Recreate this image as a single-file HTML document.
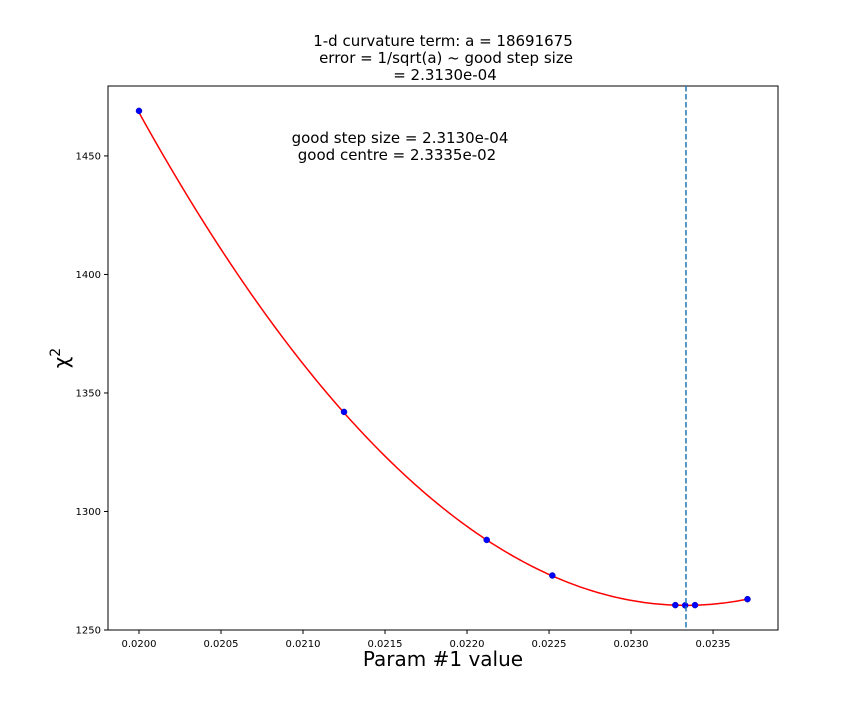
<!DOCTYPE html>
<html><head><meta charset="utf-8"><style>
body{margin:0;background:#fff;}
svg text{font-family:"DejaVu Sans","Liberation Sans",sans-serif;}
</style></head><body>
<svg id="chart" width="864" height="720" xmlns="http://www.w3.org/2000/svg">
<text x="443" y="46" font-size="15" text-anchor="middle">1-d curvature term: a = 18691675</text>
<text x="446" y="63" font-size="15" text-anchor="middle">error = 1/sqrt(a) ~ good step size</text>
<text x="445" y="80" font-size="15" text-anchor="middle">= 2.3130e-04</text>
<text x="400" y="143" font-size="15" text-anchor="middle">good step size = 2.3130e-04</text>
<text x="397" y="160" font-size="15" text-anchor="middle">good centre = 2.3335e-02</text>
<text x="443" y="666" font-size="20" text-anchor="middle">Param #1 value</text>
<text transform="translate(68,358) rotate(-90)" font-size="20" text-anchor="middle">χ<tspan font-size="14" dy="-8">2</tspan></text>
<g id="plot"></g>
</svg>
<script>
const xTicks=[0.0200,0.0205,0.0210,0.0215,0.0220,0.0225,0.0230,0.0235];
const xTickLabels=["0.0200","0.0205","0.0210","0.0215","0.0220","0.0225","0.0230","0.0235"];
const yTicks=[1250,1300,1350,1400,1450];
const yTickLabels=["1250","1300","1350","1400","1450"];
const pointX=[0.02000,0.02125,0.02212,0.02252,0.02327,0.02333,0.02339,0.02371];
const pointY=[1469,1342,1288,1273,1260.5,1260.4,1260.5,1263];
const fitCurvature=[18691675];
const fitCentre=[0.023335];
const fitMin=[1260.4];
const bestX=[0.023335];

const L=108,R=778,T=86,B=630;
const xMin=0.019811,xMax=0.023896,yMin=1250,yMax=1479.5;
const sx=v=>L+(v-xMin)/(xMax-xMin)*(R-L);
const sy=v=>B-(v-yMin)/(yMax-yMin)*(B-T);
const NS="http://www.w3.org/2000/svg";
const g=document.getElementById('plot');
function mk(t,a){const e=document.createElementNS(NS,t);for(const k in a)e.setAttribute(k,a[k]);g.appendChild(e);return e;}

let frame=mk('rect',{x:L,y:T,width:R-L,height:B-T,fill:'none',stroke:'#000','stroke-width':1});



xTicks.forEach((v,i)=>{
  let l=mk('line',{x1:sx(v),x2:sx(v),y1:B,y2:B+4,stroke:'#000'});
  
  
  let t=mk('text',{x:sx(v),y:B+17,'font-size':10,'text-anchor':'middle'});
  t.textContent=xTickLabels[i];
  
  
});
yTicks.forEach((v,i)=>{
  let l=mk('line',{x1:L-4,x2:L,y1:sy(v),y2:sy(v),stroke:'#000'});
  
  
  let t=mk('text',{x:L-7,y:sy(v)+3.5,'font-size':10,'text-anchor':'end'});
  t.textContent=yTickLabels[i];
  
  
});

let d='';
const x0=pointX[0],x1=pointX[pointX.length-1];
for(let i=0;i<=200;i++){const x=x0+(x1-x0)*i/200;const y=fitMin[0]+fitCurvature[0]*(x-fitCentre[0])**2;d+=(i?'L':'M')+sx(x).toFixed(2)+','+sy(y).toFixed(2);}
let c=mk('path',{d:d,fill:'none',stroke:'red','stroke-width':1.5});



pointX.forEach((x,i)=>{
  let p=mk('circle',{cx:sx(x),cy:sy(pointY[i]),r:3,fill:'#0000ff',stroke:'#0000aa','stroke-width':0.5});
  
  
});

let v=mk('line',{x1:sx(bestX[0]),x2:sx(bestX[0]),y1:T,y2:B,stroke:'#1f77b4','stroke-width':1.5,'stroke-dasharray':'5.5,2.5'});


</script>
</body></html>
